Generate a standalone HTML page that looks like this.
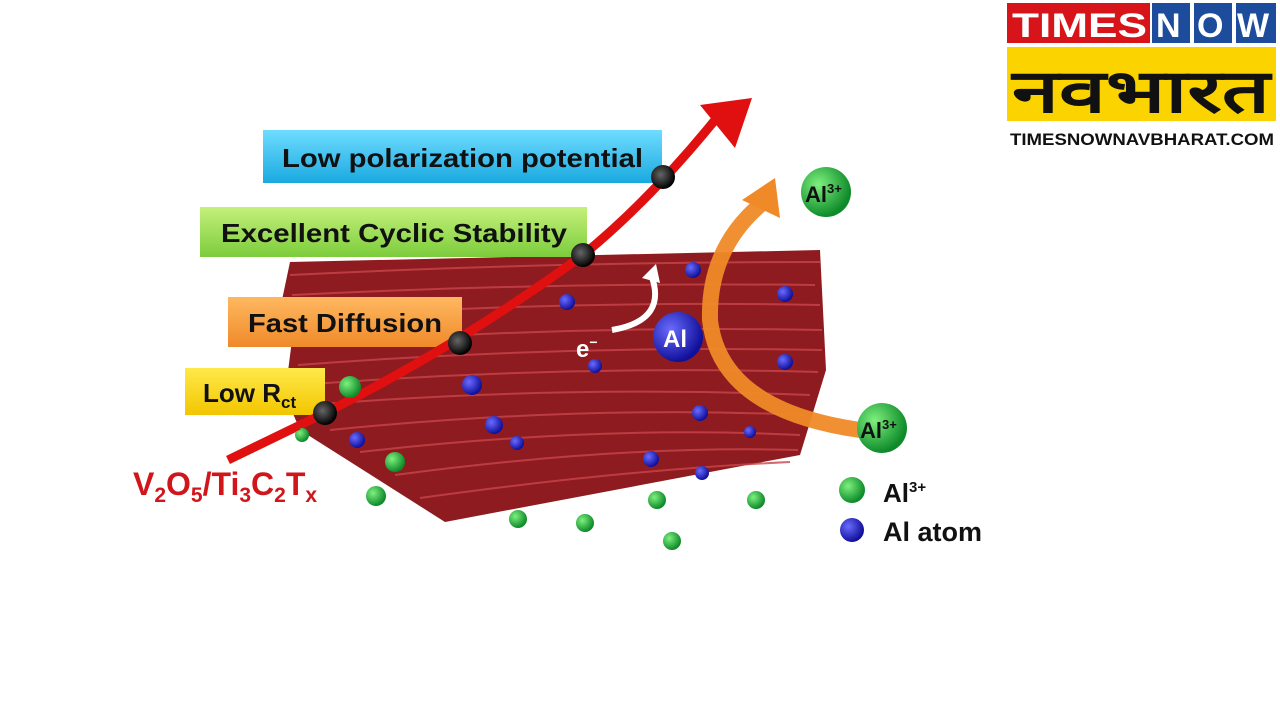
<!DOCTYPE html>
<html><head><meta charset="utf-8"><style>
html,body{margin:0;padding:0;background:#fff;width:1280px;height:720px;overflow:hidden}
text{font-family:"Liberation Sans",Arial,sans-serif;font-weight:bold}
</style></head><body>
<svg width="1280" height="720" viewBox="0 0 1280 720" xmlns="http://www.w3.org/2000/svg">
<defs>
<radialGradient id="g" cx="35%" cy="35%" r="65%"><stop offset="0" stop-color="#7ef07e"/><stop offset="1" stop-color="#0e8a2a"/></radialGradient>
<radialGradient id="b" cx="35%" cy="35%" r="65%"><stop offset="0" stop-color="#6a6aff"/><stop offset="1" stop-color="#10109a"/></radialGradient>
<radialGradient id="k" cx="40%" cy="40%" r="60%"><stop offset="0" stop-color="#666"/><stop offset="1" stop-color="#000"/></radialGradient>
<linearGradient id="cy" x1="0" y1="0" x2="0" y2="1"><stop offset="0" stop-color="#6fdcff"/><stop offset="1" stop-color="#1aa9e0"/></linearGradient>
<linearGradient id="gr" x1="0" y1="0" x2="0" y2="1"><stop offset="0" stop-color="#c4f07a"/><stop offset="1" stop-color="#7ccc3c"/></linearGradient>
<linearGradient id="or" x1="0" y1="0" x2="0" y2="1"><stop offset="0" stop-color="#ffb860"/><stop offset="1" stop-color="#ef8a2a"/></linearGradient>
<linearGradient id="ye" x1="0" y1="0" x2="0" y2="1"><stop offset="0" stop-color="#ffe94a"/><stop offset="1" stop-color="#f2c600"/></linearGradient>
</defs>
<!-- stack -->
<polygon points="290,262 820,250 826,370 800,455 445,522 300,430 285,395 292,340 282,300" fill="#8e1b1f"/>
<g stroke="#c8454a" stroke-width="2" fill="none" opacity="0.8">
<path d="M290,275 Q550,262 820,262"/><path d="M292,295 Q550,282 815,285"/><path d="M292,318 Q560,300 820,305"/>
<path d="M295,345 Q560,325 822,330"/><path d="M298,365 Q560,345 822,350"/><path d="M300,385 Q560,365 818,372"/>
<path d="M310,405 Q560,385 810,395"/><path d="M330,430 Q580,405 805,415"/><path d="M360,452 Q600,425 800,435"/>
<path d="M395,475 Q620,445 798,450"/><path d="M420,498 Q620,470 790,462"/>
</g>
<!-- logo -->
<rect x="1007" y="3" width="143" height="40" fill="#d7141a"/>
<rect x="1152" y="3" width="38" height="40" fill="#1d4c9c"/><rect x="1194" y="3" width="38" height="40" fill="#1d4c9c"/><rect x="1236" y="3" width="40" height="40" fill="#1d4c9c"/>
<text x="1012" y="37" font-size="34" fill="#fff" textLength="135" lengthAdjust="spacingAndGlyphs">TIMES</text>
<text x="1156" y="37" font-size="34" fill="#fff">N</text><text x="1197" y="37" font-size="34" fill="#fff">O</text><text x="1237" y="37" font-size="34" fill="#fff">W</text>
<rect x="1007" y="47" width="269" height="74" fill="#fbd400"/>
<text x="1012" y="112" font-size="60" fill="#111" textLength="258" lengthAdjust="spacingAndGlyphs">नवभारत</text>
<text x="1010" y="145" font-size="17" fill="#111" textLength="264" lengthAdjust="spacingAndGlyphs">TIMESNOWNAVBHARAT.COM</text>
<!-- boxes -->
<rect x="263" y="130" width="399" height="53" fill="url(#cy)"/>
<text x="282" y="167" font-size="26" fill="#111" textLength="361" lengthAdjust="spacingAndGlyphs">Low polarization potential</text>
<rect x="200" y="207" width="387" height="50" fill="url(#gr)"/>
<text x="221" y="242" font-size="26" fill="#111" textLength="346" lengthAdjust="spacingAndGlyphs">Excellent Cyclic Stability</text>
<rect x="228" y="297" width="234" height="50" fill="url(#or)"/>
<text x="248" y="332" font-size="26" fill="#111" textLength="194" lengthAdjust="spacingAndGlyphs">Fast Diffusion</text>
<rect x="185" y="368" width="140" height="47" fill="url(#ye)"/>
<text x="203" y="402" font-size="26" fill="#111">Low R<tspan font-size="17" dy="6">ct</tspan></text>
<!-- red arrow -->
<path d="M228,460 L325,413 Q460,345 583,255 Q650,200 715,120" stroke="#e01010" stroke-width="9" fill="none"/>
<polygon points="700,105 752,98 735,148" fill="#e01010"/>
<g fill="url(#k)"><circle cx="325" cy="413" r="12"/><circle cx="460" cy="343" r="12"/><circle cx="583" cy="255" r="12"/><circle cx="663" cy="177" r="12"/></g>
<!-- orange arrow -->
<path d="M860,430 Q720,410 710,320 Q708,250 760,205" stroke="#f08a28" stroke-width="16" fill="none" opacity="0.95"/>
<polygon points="742,200 775,178 780,218" fill="#f08a28"/>
<!-- white e- arrow -->
<path d="M612,330 Q670,320 650,272" stroke="#fff" stroke-width="6" fill="none"/>
<polygon points="642,278 656,264 660,283" fill="#fff"/>
<text x="576" y="357" font-size="24" fill="#fff">e<tspan font-size="14" dy="-10">−</tspan></text>
<!-- balls -->
<g fill="url(#b)">
<circle cx="678" cy="337" r="25"/>
<circle cx="567" cy="302" r="8"/><circle cx="693" cy="270" r="8"/><circle cx="785" cy="294" r="8"/><circle cx="472" cy="385" r="10"/>
<circle cx="595" cy="366" r="7"/><circle cx="785" cy="362" r="8"/><circle cx="494" cy="425" r="9"/><circle cx="357" cy="440" r="8"/>
<circle cx="517" cy="443" r="7"/><circle cx="700" cy="413" r="8"/><circle cx="750" cy="432" r="6"/><circle cx="651" cy="459" r="8"/><circle cx="702" cy="473" r="7"/>
<circle cx="852" cy="530" r="12"/>
</g>
<text x="663" y="347" font-size="24" fill="#fff">Al</text>
<g fill="url(#g)">
<circle cx="826" cy="192" r="25"/><circle cx="882" cy="428" r="25"/>
<circle cx="350" cy="387" r="11"/><circle cx="302" cy="435" r="7"/><circle cx="395" cy="462" r="10"/><circle cx="376" cy="496" r="10"/>
<circle cx="518" cy="519" r="9"/><circle cx="585" cy="523" r="9"/><circle cx="657" cy="500" r="9"/><circle cx="672" cy="541" r="9"/><circle cx="756" cy="500" r="9"/>
<circle cx="852" cy="490" r="13"/>
</g>
<text x="805" y="202" font-size="22" fill="#111">Al<tspan font-size="13" dy="-9">3+</tspan></text>
<text x="860" y="438" font-size="22" fill="#111">Al<tspan font-size="13" dy="-9">3+</tspan></text>
<text x="883" y="502" font-size="26" fill="#111" font-weight="normal">Al<tspan font-size="15" dy="-10">3+</tspan></text>
<text x="883" y="541" font-size="27" fill="#111" font-weight="normal">Al atom</text>
<rect x="983" y="510" width="40" height="40" fill="#fff"/>
<!-- label -->
<line x1="230" y1="460" x2="300" y2="428" stroke="#e01010" stroke-width="3"/>
<text x="133" y="495" font-size="32" fill="#d0161b" font-weight="normal">V<tspan font-size="21" dy="7">2</tspan><tspan dy="-7">O</tspan><tspan font-size="21" dy="7">5</tspan><tspan dy="-7">/Ti</tspan><tspan font-size="21" dy="7">3</tspan><tspan dy="-7">C</tspan><tspan font-size="21" dy="7">2</tspan><tspan dy="-7">T</tspan><tspan font-size="21" dy="7">x</tspan></text>
</svg>
</body></html>
